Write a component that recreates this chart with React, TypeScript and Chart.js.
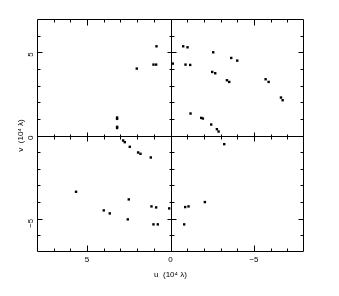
import React, { useEffect, useRef } from "react";
import { Chart, registerables } from "chart.js";

Chart.register(...registerables);

// u coordinates (10^4 lambda)
const uValues = [
  0.84, 1.02, 0.86, 2.02, 3.2, 3.2, 3.2, 3.2,
  -0.14, -0.76, -1.02, -0.9, -1.18, -2.56, -2.5, -2.68, -3.64, -4.0, -3.38, -3.52, -5.7, -5.88, -6.62, -6.72, -1.2, -1.84, -1.94, -2.44, -2.78, -2.88,
  2.84, 2.74, 2.44, 1.94, 1.8, 1.18, 5.66, 4.0, 3.64, 2.5, 2.56, 1.14, 0.86, 1.02, 0.76, 0.08,
  -3.22, -0.88, -1.08, -2.06, -0.82,
];
// v coordinates (10^4 lambda)
const vValues = [
  5.36, 4.26, 4.26, 4.02, 1.08, 1.0, 0.52, 0.45,
  4.32, 5.36, 5.3, 4.26, 4.24, 5.0, 3.82, 3.74, 4.66, 4.5, 3.32, 3.22, 3.38, 3.22, 2.28, 2.12, 1.32, 1.06, 1.02, 0.66, 0.38, 0.24,
  -0.3, -0.4, -0.68, -1.02, -1.1, -1.32, -3.38, -4.5, -4.68, -3.84, -5.04, -4.26, -4.32, -5.34, -5.34, -4.38,
  -0.52, -4.3, -4.26, -4.0, -5.34,
];
const xLabelTicks = [5, 0, -5];
const yLabelTicks = [5, 0, -5];
const xTitle = "u  (10\u2074 \u03bb)";
const yTitle = "v  (10\u2074 \u03bb)";

const FONT = { family: "'Liberation Sans', Arial, sans-serif", size: 8 };

const framePlugin = {
  id: "frame",
  beforeDatasetsDraw(chart: any) {
    const { ctx, chartArea: a, scales } = chart;
    const x = scales.x;
    const y = scales.y;
    const r = (v: number) => Math.round(v) + 0.5;
    const L = r(a.left), R = r(a.right - 1), T = r(a.top), B = r(a.bottom - 1);
    const x0 = r(x.getPixelForValue(0));
    const y0 = r(y.getPixelForValue(0));
    ctx.save();
    ctx.strokeStyle = "#000";
    ctx.lineWidth = 1;
    ctx.beginPath();
    ctx.rect(L, T, R - L, B - T);
    ctx.moveTo(x0, T); ctx.lineTo(x0, B);
    ctx.moveTo(L, y0); ctx.lineTo(R, y0);
    for (let u = Math.ceil(x.min) + 1; u < x.max; u++) {
      const px = r(x.getPixelForValue(u));
      const major = u % 5 === 0;
      const len = major ? 6 : 3;
      ctx.moveTo(px, B); ctx.lineTo(px, B - len);
      ctx.moveTo(px, T); ctx.lineTo(px, T + len);
      if (u !== 0) {
        const h = major ? 4 : 2;
        ctx.moveTo(px, y0 - h); ctx.lineTo(px, y0 + h + 1);
      }
    }
    for (let v = Math.ceil(y.min) + 1; v < y.max; v++) {
      const py = r(y.getPixelForValue(v));
      const major = v % 5 === 0;
      const len = major ? 5 : 3;
      ctx.moveTo(L, py); ctx.lineTo(L + len, py);
      ctx.moveTo(R, py); ctx.lineTo(R - len, py);
      if (v !== 0) {
        const h = major ? 4 : 2;
        ctx.moveTo(x0 - h, py); ctx.lineTo(x0 + h + 1, py);
      }
    }
    ctx.stroke();
    ctx.restore();
  },
};

export default function App() {
  const ref = useRef<HTMLCanvasElement | null>(null);
  useEffect(() => {
    if (!ref.current) return;
    const points = uValues.map((u, i) => ({ x: u, y: vValues[i] }));
    const chart = new Chart(ref.current, {
      type: "scatter",
      data: {
        datasets: [
          {
            data: points,
            pointStyle: "rect",
            pointRadius: 1.7,
            pointBorderWidth: 0,
            backgroundColor: "#000",
            borderColor: "#000",
          },
        ],
      },
      options: {
        animation: false,
        responsive: false,
        devicePixelRatio: 1,
        layout: { padding: { left: 0, top: 19, right: 35, bottom: 10 } },
        plugins: { legend: { display: false }, tooltip: { enabled: false } },
        scales: {
          x: {
            type: "linear",
            min: -8,
            max: 8,
            reverse: true,
            grid: { display: false, drawTicks: false },
            border: { display: false },
            afterBuildTicks: (s: any) => {
              s.ticks = xLabelTicks.map((v) => ({ value: v }));
            },
            afterFit: (s: any) => {
              s.height = 34;
            },
            ticks: {
              maxRotation: 0,
              minRotation: 0,
              padding: 3,
              color: "#000",
              font: FONT,
              callback: (v: any) => (v < 0 ? "\u2212" + Math.abs(v) : String(v)),
            },
            title: {
              display: true,
              text: xTitle,
              color: "#000",
              font: FONT,
              padding: { top: 0, bottom: 6 },
            },
          },
          y: {
            type: "linear",
            min: -7,
            max: 7,
            grid: { display: false, drawTicks: false },
            border: { display: false },
            afterBuildTicks: (s: any) => {
              s.ticks = yLabelTicks.map((v) => ({ value: v }));
            },
            afterFit: (s: any) => {
              s.width = 37;
            },
            ticks: {
              minRotation: 90,
              maxRotation: 90,
              padding: 6,
              color: "#000",
              font: FONT,
              callback: (v: any) => (v < 0 ? "\u2212" + Math.abs(v) : String(v)),
            },
            title: {
              display: true,
              text: yTitle,
              color: "#000",
              font: FONT,
              padding: { top: 16, bottom: 0 },
            },
          },
        },
      },
      plugins: [framePlugin],
    });
    return () => chart.destroy();
  }, []);
  return (
    <div style={{ position: "fixed", left: 0, top: 0, width: 339, height: 296, background: "#fff" }}>
      <canvas ref={ref} width={339} height={296} style={{ width: 339, height: 296, display: "block" }} />
    </div>
  );
}
